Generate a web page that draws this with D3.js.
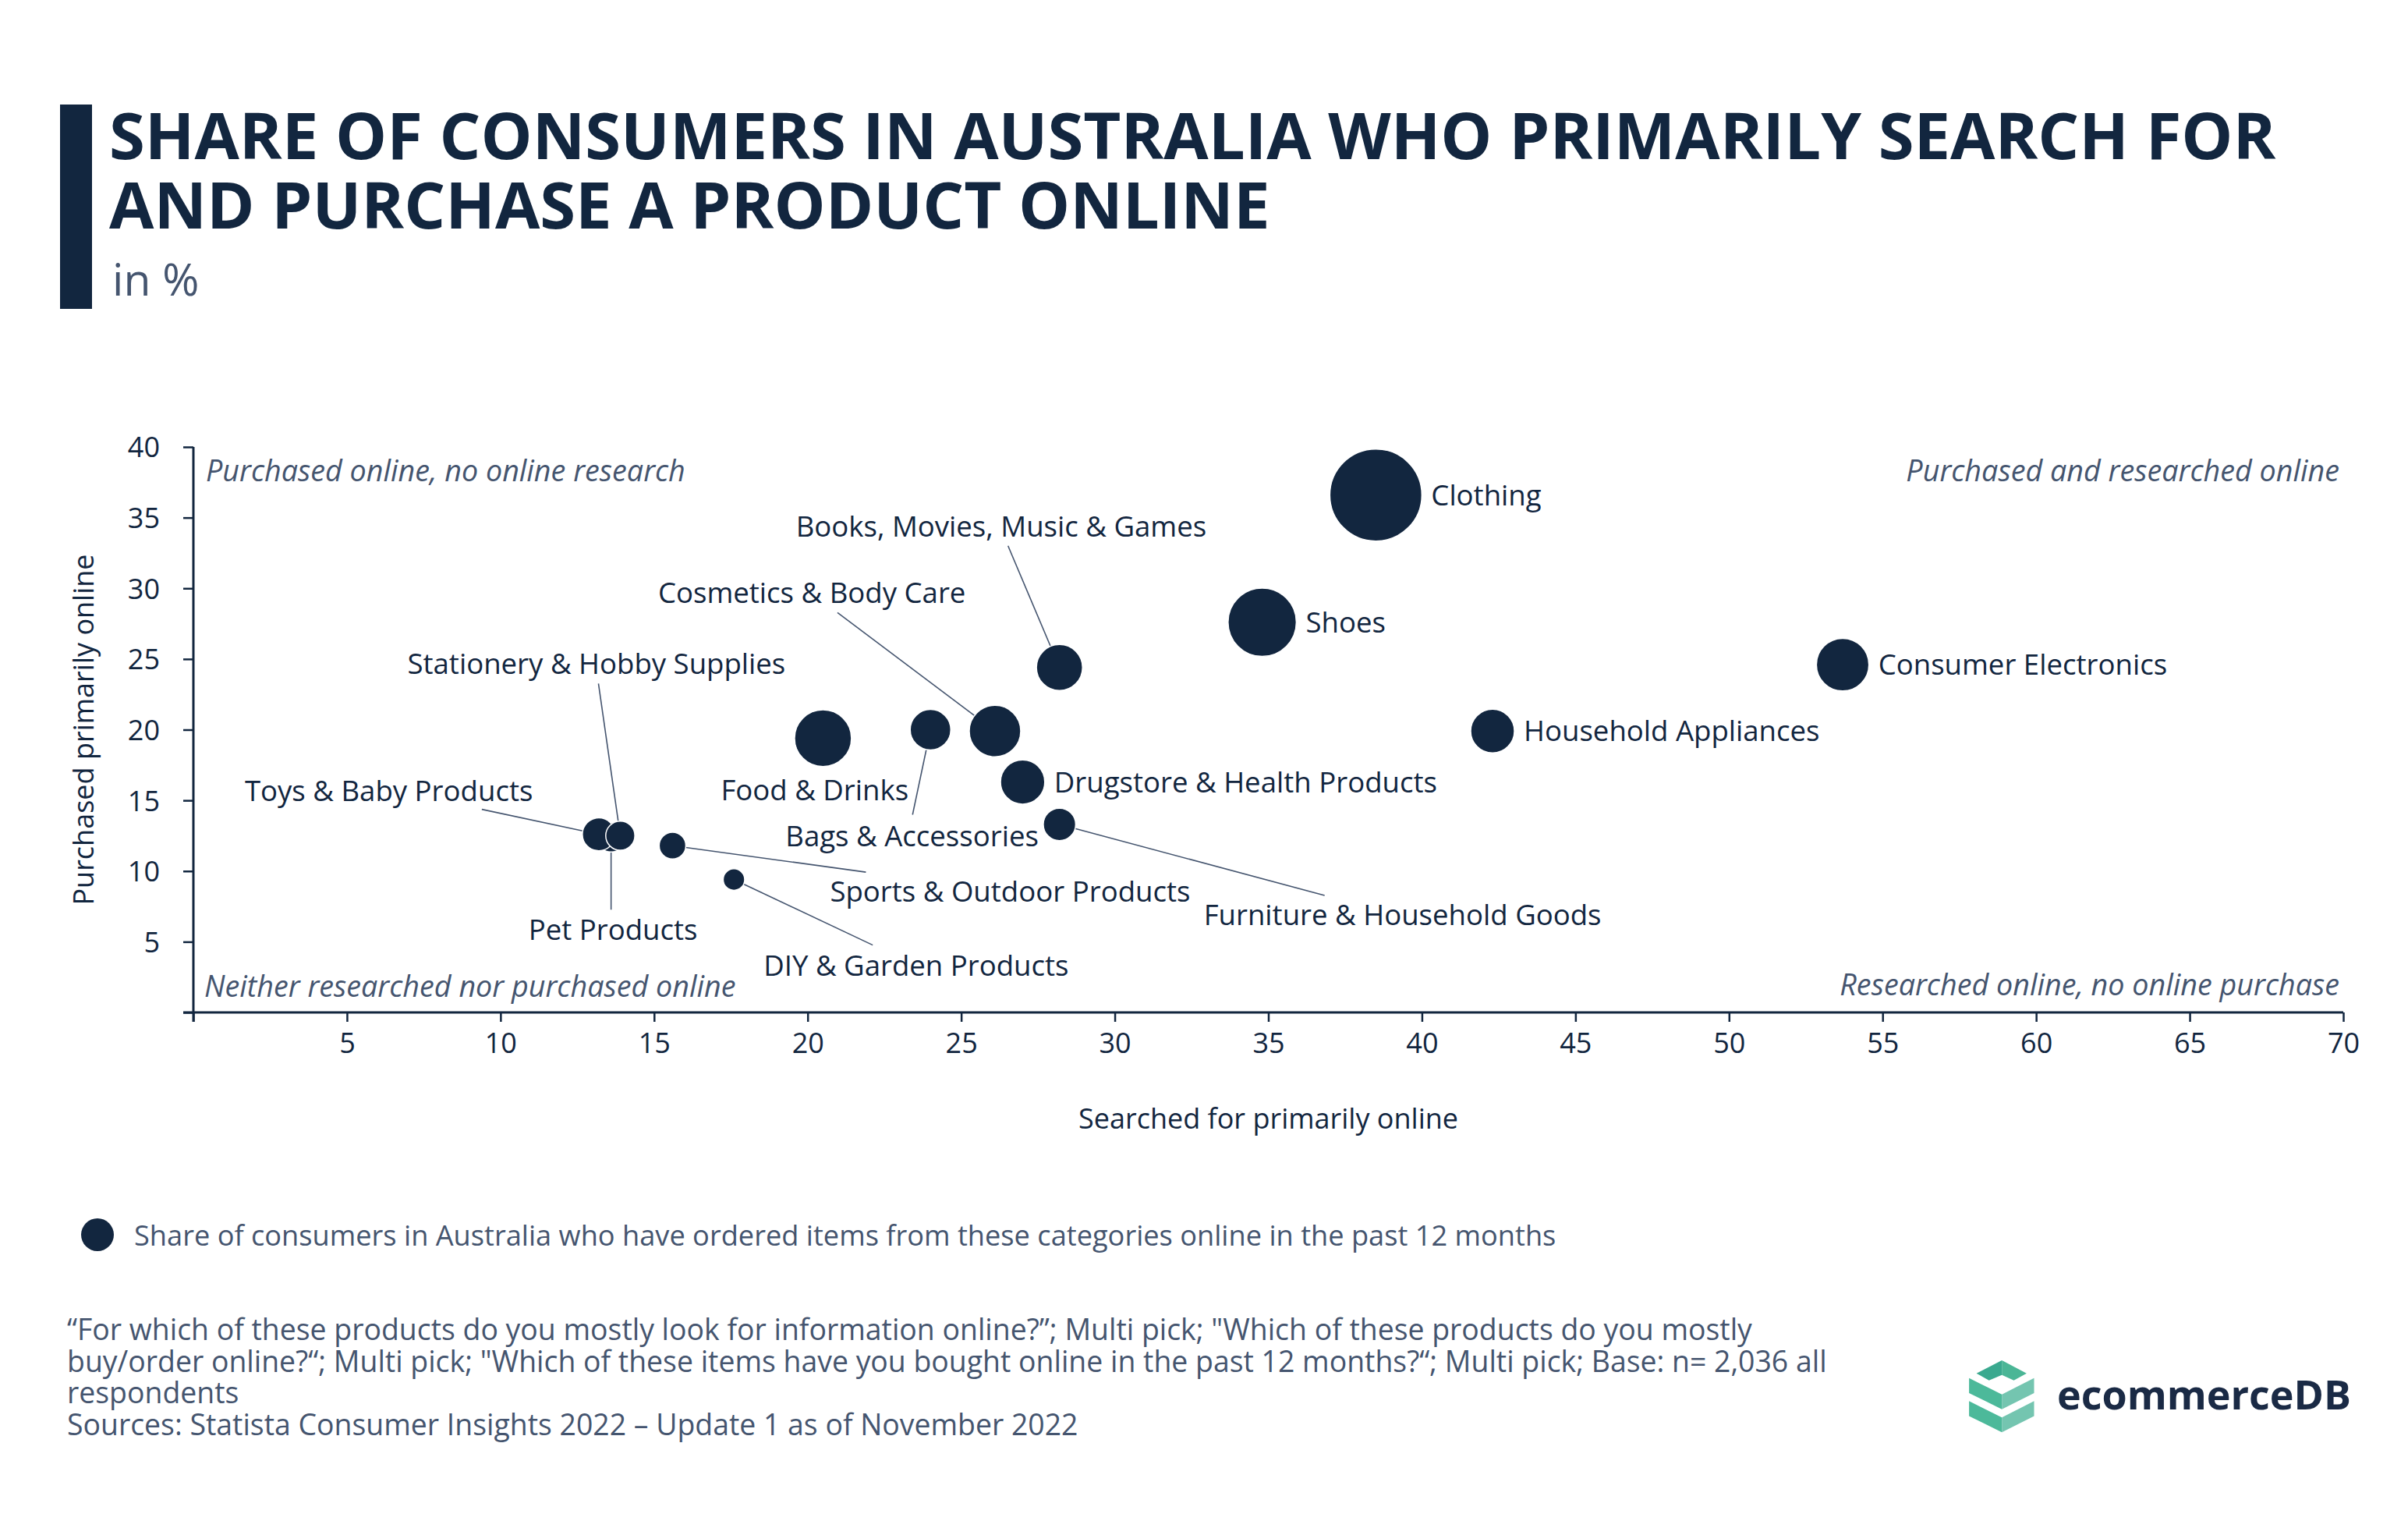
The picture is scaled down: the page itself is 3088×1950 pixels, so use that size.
<!DOCTYPE html>
<html>
<head>
<meta charset="utf-8">
<script src="https://cdn.jsdelivr.net/npm/d3@7"></script>
<style>
  html, body { margin: 0; padding: 0; background: #ffffff; }
  svg { display: block; font-family: "Open Sans", "Noto Sans", sans-serif; }
</style>
</head>
<body>
<script>
// ---------------- DATA ----------------
const categories = [
  "Clothing", "Shoes", "Food & Drinks", "Consumer Electronics", "Cosmetics & Body Care",
  "Books, Movies, Music & Games", "Drugstore & Health Products", "Household Appliances",
  "Bags & Accessories", "Furniture & Household Goods", "Pet Products", "Toys & Baby Products",
  "Stationery & Hobby Supplies", "Sports & Outdoor Products", "DIY & Garden Products"
];
const searchedOnline  = [38.5, 34.8, 20.5, 53.7, 26.1, 28.2, 27.0, 42.3, 24.0, 28.2, 13.6, 13.2, 13.9, 15.6, 17.6];
const purchasedOnline = [36.6, 27.6, 19.4, 24.6, 19.9, 24.4, 16.3, 19.9, 20.0, 13.3, 12.4, 12.6, 12.5, 11.8,  9.4];
const orderedShare    = [55.0, 30.3, 21.0, 17.9, 17.2, 13.8, 12.7, 12.4, 10.7,  6.8,  5.7,  7.0,  5.5,  4.6,  3.0];

const xTicks = [0, 5, 10, 15, 20, 25, 30, 35, 40, 45, 50, 55, 60, 65, 70];
const yTicks = [0, 5, 10, 15, 20, 25, 30, 35, 40];

const titleLines = [
  "SHARE OF CONSUMERS IN AUSTRALIA WHO PRIMARILY SEARCH FOR",
  "AND PURCHASE A PRODUCT ONLINE"
];
const subtitle = "in %";
const xTitle = "Searched for primarily online";
const yTitle = "Purchased primarily online";
const quadrantLabels = [
  "Purchased online, no online research",
  "Purchased and researched online",
  "Neither researched nor purchased online",
  "Researched online, no online purchase"
];
const legendText = "Share of consumers in Australia who have ordered items from these categories online in the past 12 months";
const footerLines = [
  "\u201CFor which of these products do you mostly look for information online?\u201D; Multi pick; \"Which of these products do you mostly",
  "buy/order online?\u201C; Multi pick; \"Which of these items have you bought online in the past 12 months?\u201C; Multi pick; Base: n= 2,036 all",
  "respondents",
  "Sources: Statista Consumer Insights 2022 \u2013 Update 1 as of November 2022"
];

// label layout (pixel offsets from bubble centre); "right" = beside the bubble
const labelLayout = {
  "Clothing": "right", "Shoes": "right", "Consumer Electronics": "right",
  "Household Appliances": "right", "Drugstore & Health Products": "right",
  "Food & Drinks": { dx: -131, dy: 80 },
  "Books, Movies, Music & Games": { dx: -338, dy: -168, lx: -66, ly: -156 },
  "Cosmetics & Body Care": { dx: -432, dy: -164, lx: -202, ly: -152 },
  "Stationery & Hobby Supplies": { dx: -273, dy: -207, lx: -28, ly: -195 },
  "Toys & Baby Products": { dx: -454, dy: -43, lx: -150, ly: -32 },
  "Pet Products": { dx: -106, dy: 132, lx: 0, ly: 93 },
  "Sports & Outdoor Products": { dx: 202, dy: 72, lx: 248, ly: 34 },
  "DIY & Garden Products": { dx: 38, dy: 123, lx: 178, ly: 84 },
  "Bags & Accessories": { dx: -186, dy: 149, lx: -23, ly: 109 },
  "Furniture & Household Goods": { dx: 185, dy: 129, lx: 340, ly: 91 }
};

// ---------------- STYLE ----------------
const W = 3088, H = 1950;
const NAVY = "#12263f";
const SLATE = "#45556f";

const svg = d3.select("body").append("svg")
  .attr("width", W).attr("height", H).attr("viewBox", `0 0 ${W} ${H}`);

// Title block
svg.append("rect").attr("x", 77).attr("y", 134).attr("width", 41).attr("height", 262).attr("fill", NAVY);
svg.append("g").selectAll("text").data(titleLines).join("text")
  .attr("x", 140).attr("y", (d, i) => 204 + i * 89)
  .attr("font-size", 83.2).attr("font-weight", 700).attr("fill", NAVY).text(d => d);
svg.append("text").attr("x", 144).attr("y", 379)
  .attr("font-size", 57).attr("fill", SLATE).text(subtitle);

// Scales
const x = d3.scaleLinear().domain([0, 70]).range([248, 3005]);
const y = d3.scaleLinear().domain([0, 40]).range([1298, 573]);
const r = d3.scaleSqrt().domain([0, 55]).range([0, 59]);

// Axes
const xAxis = d3.axisBottom(x).tickValues(xTicks).tickSize(12).tickPadding(14)
  .tickFormat(d => d === 0 ? "" : d);
const yAxis = d3.axisLeft(y).tickValues(yTicks).tickSize(13).tickPadding(30)
  .tickFormat(d => d === 0 ? "" : d);

const gx = svg.append("g").attr("transform", `translate(0,${y(0)})`).call(xAxis);
const gy = svg.append("g").attr("transform", `translate(${x(0)},0)`).call(yAxis);
[gx, gy].forEach(g => {
  g.select(".domain").attr("stroke", NAVY).attr("stroke-width", 3);
  g.selectAll(".tick line").attr("stroke", NAVY).attr("stroke-width", 2.5);
  g.selectAll(".tick text").attr("fill", NAVY).attr("font-size", 36)
    .attr("font-family", "'Open Sans', sans-serif");
});
gx.select(".domain").attr("d", `M${x(0) - 13},0H${x(70)}`);
gy.select(".domain").attr("d", `M0,${y(0) + 12}V${y(40)}`);
gx.selectAll(".tick text").attr("dy", "0.71em");
gy.selectAll(".tick text").attr("dy", "0.36em");

// Axis titles
svg.append("text").attr("x", (x(0) + x(70)) / 2).attr("y", 1447)
  .attr("text-anchor", "middle").attr("font-size", 36).attr("fill", NAVY).text(xTitle);
svg.append("text").attr("transform", `translate(120,${(y(0) + y(40)) / 2}) rotate(-90)`)
  .attr("text-anchor", "middle").attr("font-size", 36).attr("fill", NAVY).text(yTitle);

// Quadrant labels
const qPos = [
  { x: x(0) + 16, y: 617, a: "start" },
  { x: x(70) - 5, y: 617, a: "end" },
  { x: x(0) + 14, y: 1278, a: "start" },
  { x: x(70) - 5, y: 1276, a: "end" }
];
svg.append("g").selectAll("text").data(quadrantLabels).join("text")
  .attr("x", (d, i) => qPos[i].x).attr("y", (d, i) => qPos[i].y)
  .attr("text-anchor", (d, i) => qPos[i].a)
  .attr("font-size", 37.7).attr("font-style", "italic").attr("fill", SLATE).text(d => d);

// Bubble data
const points = categories.map((c, i) => ({
  name: c, cx: x(searchedOnline[i]), cy: y(purchasedOnline[i]), rr: r(orderedShare[i])
}));

// Leader lines
const leaders = points.filter(p => typeof labelLayout[p.name] === "object" && labelLayout[p.name].lx !== undefined);
svg.append("g").selectAll("line").data(leaders).join("line")
  .attr("x1", p => p.cx + labelLayout[p.name].lx)
  .attr("y1", p => p.cy + labelLayout[p.name].ly)
  .attr("x2", p => {
    const L = labelLayout[p.name]; const len = Math.hypot(L.lx, L.ly);
    return p.cx + L.lx / len * p.rr;
  })
  .attr("y2", p => {
    const L = labelLayout[p.name]; const len = Math.hypot(L.lx, L.ly);
    return p.cy + L.ly / len * p.rr;
  })
  .attr("stroke", SLATE).attr("stroke-width", 1.6);

// Bubbles
svg.append("g").selectAll("circle").data(points).join("circle")
  .attr("cx", p => p.cx).attr("cy", p => p.cy).attr("r", p => p.rr)
  .attr("fill", NAVY).attr("stroke", "#ffffff").attr("stroke-width", 1.5);

// Labels
svg.append("g").selectAll("text").data(points).join("text")
  .attr("x", p => {
    const L = labelLayout[p.name];
    return L === "right" ? p.cx + p.rr + 12 : p.cx + L.dx;
  })
  .attr("y", p => {
    const L = labelLayout[p.name];
    return L === "right" ? p.cy : p.cy + L.dy;
  })
  .attr("dy", p => labelLayout[p.name] === "right" ? "0.36em" : 0)
  .attr("font-size", 36.6).attr("fill", NAVY).text(p => p.name);

// Legend
svg.append("circle").attr("cx", 125).attr("cy", 1583).attr("r", 21).attr("fill", NAVY);
svg.append("text").attr("x", 172).attr("y", 1597).attr("font-size", 36.2).attr("fill", SLATE).text(legendText);

// Footer
svg.append("g").selectAll("text").data(footerLines).join("text")
  .attr("font-size", 37.4).attr("fill", SLATE)
  .attr("x", 86).attr("y", (d, i) => 1718 + i * 40.5).text(d => d);

// Logo
const logo = svg.append("g");
const P = (pts) => "M" + pts.map(p => p.join(",")).join("L") + "Z";
logo.append("path").attr("fill", "#3aa98f").attr("d", P([[2534.6,1760.7],[2567.2,1744],[2567.2,1762.7],[2550.7,1769.7]]));
logo.append("path").attr("fill", "#4bb696").attr("d", P([[2567.2,1744],[2598.9,1760.7],[2582.5,1769.7],[2567.2,1762.7]]));
[0, 29.5].forEach(off => {
  logo.append("path").attr("fill", "#4cb99a").attr("d", P([[2525.1,1766.7+off],[2567.2,1787.7+off],[2567.2,1806.7+off],[2525.1,1786+off]]));
  logo.append("path").attr("fill", "#74c5b0").attr("d", P([[2567.2,1787.7+off],[2608.5,1766.7+off],[2608.5,1786+off],[2567.2,1806.7+off]]));
});
svg.append("text").attr("x", 2638).attr("y", 1807).attr("font-size", 52).attr("font-weight", 700)
  .attr("fill", "#1a2a45").text("ecommerceDB");
</script>
</body>
</html>
